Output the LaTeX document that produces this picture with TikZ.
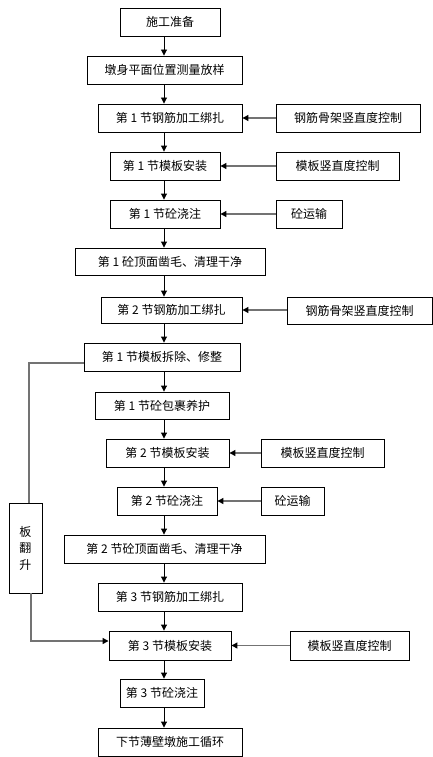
\documentclass[tikz,border=0pt]{standalone}
\usepackage{fontspec}
\setmainfont{Noto Sans CJK SC}
\usetikzlibrary{arrows.meta}

\begin{document}
\begin{tikzpicture}[x=1pt, y=-1pt,
		box/.style={draw, line width=0.9pt, inner sep=0pt, minimum height=28pt,
			font=\fontsize{12}{14}\selectfont},
		flow/.style={line width=0.9pt, -{Triangle[length=6pt,width=6pt]}},
		feed/.style={line width=1.2pt, black!55, -{Triangle[length=6pt,width=6pt,color=black]}},
		back/.style={line width=1.2pt, black!55}]
	
	\useasboundingbox (0,0) rectangle (433,757);
	
	% Main column
	\coordinate (axis) at (164,0);
	\node[box, minimum width=100pt] (prep) at (170,22) {施工准备};
	\node[box, minimum width=155pt] (survey) at (164.5,70) {墩身平面位置测量放样};
	\node[box, minimum width=144pt] (rebar1) at (170,118) {第 1 节钢筋加工绑扎};
	\node[box, minimum width=110pt] (form1) at (165,166) {第 1 节模板安装};
	\node[box, minimum width=110pt] (pour1) at (165,214) {第 1 节砼浇注};
	\node[box, minimum width=190pt, minimum height=27pt] (chip1) at (170,261.5) {第 1 砼顶面凿毛、清理干净};
	\node[box, minimum width=141pt, minimum height=26pt] (rebar2) at (171.5,310) {第 2 节钢筋加工绑扎};
	\node[box, minimum width=156pt] (remove1) at (162,357) {第 1 节模板拆除、修整};
	\node[box, minimum width=134pt, minimum height=27pt] (cure1) at (162,405.5) {第 1 节砼包裹养护};
	\node[box, minimum width=123pt] (form2) at (167.5,453) {第 2 节模板安装};
	\node[box, minimum width=100pt] (pour2) at (167,501) {第 2 节砼浇注};
	\node[box, minimum width=201pt] (chip2) at (164.5,549) {第 2 节砼顶面凿毛、清理干净};
	\node[box, minimum width=144pt] (rebar3) at (170,597) {第 3 节钢筋加工绑扎};
	\node[box, minimum width=122pt, minimum height=29pt] (form3) at (170,645.5) {第 3 节模板安装};
	\node[box, minimum width=84pt] (pour3) at (162,693) {第 3 节砼浇注};
	\node[box, minimum width=144pt] (next) at (170,742) {下节薄壁墩施工循环};
	
	% Side inputs
	\node[box, minimum width=144pt] (rebarctl1) at (348,118) {钢筋骨架竖直度控制};
	\node[box, minimum width=123pt] (formctl1) at (337.5,166) {模板竖直度控制};
	\node[box, minimum width=66pt] (trans1) at (309,214) {砼运输};
	\node[box, minimum width=145pt, minimum height=27pt] (rebarctl2) at (359.5,310.5) {钢筋骨架竖直度控制};
	\node[box, minimum width=123pt] (formctl2) at (322.5,453) {模板竖直度控制};
	\node[box, minimum width=63pt] (trans2) at (292.5,501) {砼运输};
	\node[box, minimum width=119pt, minimum height=29pt] (formctl3) at (349.5,645.5) {模板竖直度控制};
	
	% Formwork lift
	\node[box, minimum width=33pt, minimum height=90pt, align=center,
		font=\fontsize{12}{16.5}\selectfont] (flip) at (25.5,548) {板\\翻\\升};
	
	% Main flow
	\foreach \a/\b in {prep/survey, survey/rebar1, rebar1/form1, form1/pour1,
		pour1/chip1, chip1/rebar2, rebar2/remove1, remove1/cure1, cure1/form2,
		form2/pour2, pour2/chip2, chip2/rebar3, rebar3/form3, form3/pour3, pour3/next}
	\draw[flow] (\a.south -| axis) -- (\b.north -| axis);
	
	% Inputs from the side
	\foreach \a/\b in {rebarctl1/rebar1, formctl1/form1, trans1/pour1, rebarctl2/rebar2,
		formctl2/form2, trans2/pour2, formctl3/form3}
	\draw[feed] (\b.east -| \a.west) -- (\b.east);
	
	% Lift loop
	\draw[back] ([yshift=-6pt]remove1.west) -| ([xshift=3.5pt]flip.north);
	\draw[feed] ([xshift=5.5pt]flip.south) |- ([yshift=4.5pt]form3.west);
	
\end{tikzpicture}
\end{document}
